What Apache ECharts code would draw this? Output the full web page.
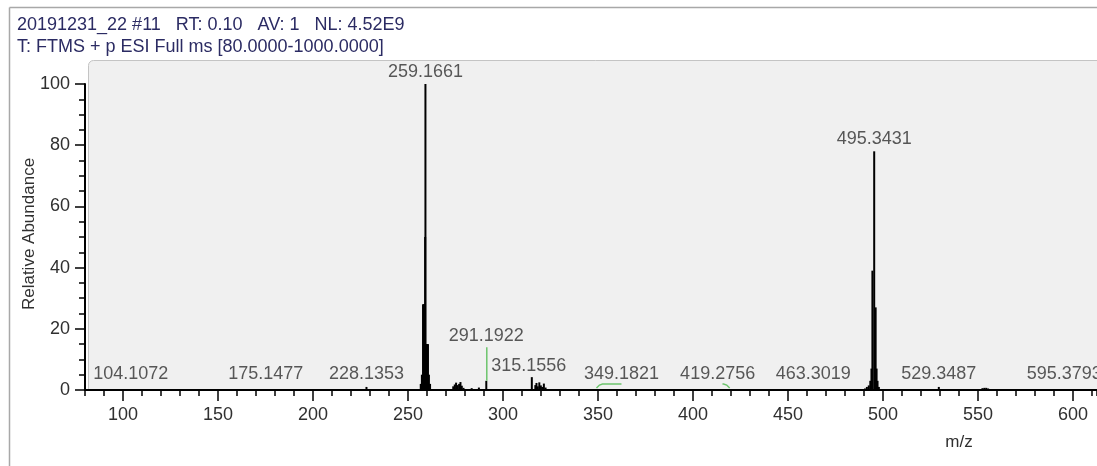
<!DOCTYPE html>
<html>
<head>
<meta charset="utf-8">
<script src="https://cdn.jsdelivr.net/npm/echarts@6/dist/echarts.min.js"></script>
<style>
  html, body { margin: 0; padding: 0; background: #ffffff; }
  #chart { width: 1097px; height: 466px; }
</style>
</head>
<body>
<div id="chart"></div>
<script>
// Scan header
const headerLines = [
  '20191231_22 #11   RT: 0.10   AV: 1   NL: 4.52E9',
  'T: FTMS + p ESI Full ms [80.0000-1000.0000]'
];
const xTitle = 'm/z';
const yTitle = 'Relative Abundance';

// Axis ticks
const xTickLabels = [100, 150, 200, 250, 300, 350, 400, 450, 500, 550, 600];
const yTickLabels = [0, 20, 40, 60, 80, 100];

// Profile sticks (m/z, relative abundance %)
const peakMz = [
  104.1072, 175.1477, 228.1353,
  256.7, 257.3, 257.9, 258.3, 258.6, 258.9, 259.02, 259.1661, 259.5, 260.0, 260.5, 261.0, 261.6,
  273.8, 274.6, 275.3, 276.1, 276.9, 277.6, 278.3, 279.2, 283.5, 287.3,
  291.1922,
  315.1556, 317.0, 317.6, 318.3, 319.1, 319.9, 320.6, 321.5, 322.4,
  349.1821, 419.2756, 463.3019,
  490.5, 491.5, 492.5, 493.3, 493.9, 494.4, 495.3431, 496.1, 496.6, 497.1, 497.8,
  529.3487, 552.3, 553.3, 554.3, 555.3, 595.3793
];
const peakIntensity = [
  0.3, 0.3, 1.0,
  2.0, 5.0, 28.0, 28.0, 28.0, 28.0, 50.0, 100.0, 15.0, 15.0, 15.0, 5.0, 2.0,
  1.2, 1.8, 2.4, 1.6, 2.0, 2.6, 1.4, 0.7, 0.6, 0.8,
  3.0,
  4.2, 1.6, 2.3, 1.2, 2.5, 1.5, 1.0, 2.1, 0.8,
  0.3, 0.3, 0.3,
  0.5, 1.0, 1.5, 3.0, 7.0, 39.0, 78.0, 27.0, 7.0, 3.0, 1.0,
  1.0, 0.6, 0.7, 0.7, 0.5, 0.3
];

// Labelled peaks
const labelMz = [
  104.1072, 175.1477, 228.1353, 259.1661, 291.1922, 315.1556,
  349.1821, 419.2756, 463.3019, 495.3431, 529.3487, 595.3793
];

const FONT = '"Liberation Sans", Arial, sans-serif';
const TEXT = '#303030';
const LEADER = '#6cc46c';

function intensityAt(mz) {
  let best = 0, bestD = Infinity;
  peakMz.forEach((m, i) => {
    const d = Math.abs(m - mz);
    if (d < bestD) { bestD = d; best = peakIntensity[i]; }
  });
  return best;
}

// Label placement: small peaks sit on a floor, a few are shifted sideways (px)
const labelFloor = 1.5;
const labelShift = { 349.1821: 25, 419.2756: -12, 315.1556: -3 };
const labelLift = { 291.1922: 14 };

const labelPoints = labelMz.map(m => {
  const inten = intensityAt(m);
  const y = labelLift[m] !== undefined ? labelLift[m] : Math.max(inten, labelFloor);
  return {
    value: [m, y],
    label: { offset: [labelShift[m] || 0, 0], distance: inten > 10 ? 3 : 2 }
  };
});

// Leader lines: [m/z, peak height, label anchor height, sideways shift in px]
const leaders = labelMz
  .filter(m => labelLift[m] !== undefined || labelShift[m] !== undefined && Math.abs(labelShift[m]) > 5)
  .map(m => [m, intensityAt(m), labelLift[m] !== undefined ? labelLift[m] : intensityAt(m), labelShift[m] || 0]);

const chart = echarts.init(document.getElementById('chart'), null, { renderer: 'canvas' });

const option = {
  animation: false,
  backgroundColor: '#ffffff',
  textStyle: { fontFamily: FONT },
  grid: { left: 85, right: 0, top: 84, bottom: 76 },
  graphic: [
    // outer frame
    { type: 'line', z: -20, shape: { x1: 9.5, y1: 7.5, x2: 9.5, y2: 466 }, style: { stroke: '#a8a8a8', lineWidth: 1.5 } },
    { type: 'line', z: -20, shape: { x1: 9.5, y1: 7.5, x2: 1097, y2: 7.5 }, style: { stroke: '#a8a8a8', lineWidth: 1.5 } },
    // plot panel
    { type: 'rect', z: -10, shape: { x: 88.5, y: 60.5, width: 1020, height: 330, r: [5, 0, 0, 0] },
      style: { fill: '#f0f0f0', stroke: '#c4c4c4', lineWidth: 1 } },
    // header
    { type: 'text', left: 17, top: 16, style: { text: headerLines[0], fill: '#2b2b63', font: '18px ' + FONT } },
    { type: 'text', left: 17, top: 38, style: { text: headerLines[1], fill: '#2b2b63', font: '18px ' + FONT } },
    // axis titles
    { type: 'text', x: 959, y: 442, style: { text: xTitle, fill: TEXT, font: '17px ' + FONT, align: 'center', verticalAlign: 'middle' } },
    { type: 'text', x: 29, y: 234, rotation: Math.PI / 2, style: { text: yTitle, fill: TEXT, font: '17px ' + FONT, align: 'center', verticalAlign: 'middle' } }
  ],
  xAxis: [
    {
      type: 'value', min: 80, max: 612.6, interval: 10,
      axisLine: { onZero: false, lineStyle: { color: '#000', width: 2 } },
      axisTick: { show: true, length: 6, lineStyle: { color: '#000', width: 1.5 } },
      axisLabel: { customValues: xTickLabels, formatter: v => String(v), color: TEXT, fontSize: 18, fontFamily: FONT, margin: 16 },
      splitLine: { show: false }
    },
    {
      type: 'value', min: 80, max: 612.6, interval: 10, position: 'bottom',
      axisLine: { show: false },
      axisTick: { show: true, customValues: xTickLabels, length: 11, lineStyle: { color: '#000', width: 1.5 } },
      axisLabel: { show: false },
      splitLine: { show: false }
    }
  ],
  yAxis: {
    type: 'value', min: 0, max: 100, interval: 20,
    axisLine: { show: true, lineStyle: { color: '#000', width: 2 } },
    axisTick: { show: true, length: 10, lineStyle: { color: '#000', width: 1.5 } },
    minorTick: { show: true, splitNumber: 4, length: 6, lineStyle: { color: '#000', width: 1.5 } },
    axisLabel: { customValues: yTickLabels, color: TEXT, fontSize: 18, fontFamily: FONT, margin: 15 },
    splitLine: { show: false }
  },
  series: [
    {
      type: 'bar', name: 'spectrum',
      xAxisIndex: 0, yAxisIndex: 0,
      barWidth: 2,
      itemStyle: { color: '#000000' },
      data: peakMz.map((m, i) => [m, peakIntensity[i]]),
      z: 3
    },
    {
      type: 'custom', name: 'leaders',
      renderItem: (params, api) => {
        const a = api.coord([api.value(0), api.value(1)]);
        const b = api.coord([api.value(0), api.value(2)]);
        const shift = api.value(3);
        let points;
        if (shift === 0) {
          points = [[a[0] + 0.5, a[1]], [b[0] + 0.5, b[1]]];
        } else {
          // short curl from the stick towards the shifted label
          const y = a[1] - 5;
          const dir = shift > 0 ? 1 : -1;
          const end = shift > 0 ? a[0] + shift : a[0] + shift * 0.6;
          points = [[a[0], a[1] - 1], [a[0] + dir * 3, y + 1], [a[0] + dir * 6, y], [end, y]];
        }
        return { type: 'polyline', shape: { points }, style: { stroke: LEADER, lineWidth: 1.5, fill: null } };
      },
      data: leaders,
      z: 4
    },
    {
      type: 'scatter', name: 'labels',
      symbolSize: 0,
      silent: true,
      label: {
        show: true, position: 'top',
        formatter: p => p.value[0].toFixed(4),
        color: TEXT, fontSize: 18, fontFamily: FONT
      },
      data: labelPoints,
      z: 5
    }
  ]
};

chart.setOption(option);
</script>
</body>
</html>
